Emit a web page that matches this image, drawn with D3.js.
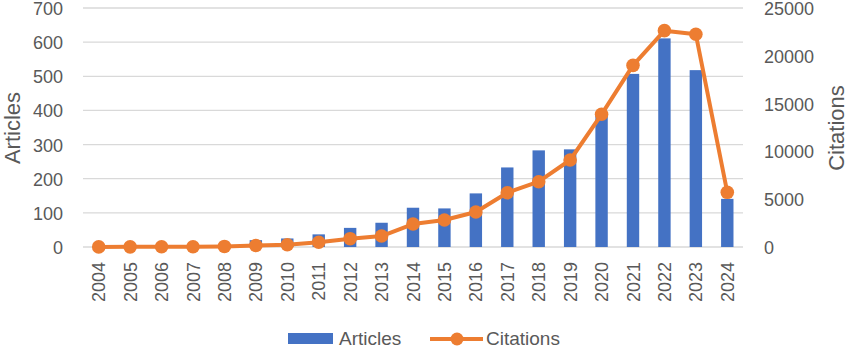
<!DOCTYPE html>
<html><head><meta charset="utf-8">
<script src="https://cdn.jsdelivr.net/npm/d3@7"></script>
<style>body{margin:0;background:#fff;} text{font-family:"Liberation Sans",Arial,sans-serif;fill:#595959;}</style>
</head><body><svg id="c" width="850" height="349"></svg>
<script>
const years = ["2004","2005","2006","2007","2008","2009","2010","2011","2012","2013","2014","2015","2016","2017","2018","2019","2020","2021","2022","2023","2024"];
const articles = [2,3,3,4,6,20,25,37,56,71,115,113,157,233,283,286,388,507,611,518,141];
const citations = [10,15,20,30,60,150,230,490,870,1150,2400,2820,3660,5680,6830,9100,13880,19000,22630,22250,5720];
const leftTicks = [0,100,200,300,400,500,600,700];
const rightTicks = [0,5000,10000,15000,20000,25000];

const svg = d3.select("#c");
const L = 83, R = 743, T = 8, B = 247;
const xc = d3.scaleBand().domain(years).range([L, R]);
const yL = d3.scaleLinear().domain([0,700]).range([B, T]);
const yR = d3.scaleLinear().domain([0,25000]).range([B, T]);

// gridlines
svg.append("g").selectAll("line").data(leftTicks).join("line")
  .attr("x1", L).attr("x2", R).attr("y1", d=>yL(d)).attr("y2", d=>yL(d))
  .attr("stroke", "#d9d9d9").attr("stroke-width", 1.3);

// left axis
const ga = svg.append("g").attr("transform", `translate(${L},0)`)
  .call(d3.axisLeft(yL).tickValues(leftTicks).tickSize(0).tickPadding(20).tickFormat(d3.format("d")));
ga.select(".domain").remove();
ga.selectAll("text").style("font-size","18px").attr("fill","#595959").attr("font-family","Liberation Sans, Arial, sans-serif").attr("dy","0.36em");

// right axis
const gr = svg.append("g").attr("transform", `translate(${R},0)`)
  .call(d3.axisRight(yR).tickValues(rightTicks).tickSize(0).tickPadding(21).tickFormat(d3.format("d")));
gr.select(".domain").remove();
gr.selectAll("text").style("font-size","18px").attr("fill","#595959").attr("font-family","Liberation Sans, Arial, sans-serif").attr("dy","0.36em");

// bars
svg.append("g").selectAll("rect").data(years).join("rect")
  .attr("x", (d)=>xc(d)+xc.bandwidth()/2-6.2)
  .attr("width", 12.4)
  .attr("y", (d,i)=>yL(articles[i]))
  .attr("height", (d,i)=>B - yL(articles[i]))
  .attr("fill", "#4472C4");

// line
const line = d3.line().x((d,i)=>xc(years[i])+xc.bandwidth()/2).y(d=>yR(d));
svg.append("path").datum(citations).attr("d", line)
  .attr("fill","none").attr("stroke","#ED7D31").attr("stroke-width",4).attr("stroke-linejoin","round");
svg.append("g").selectAll("circle").data(citations).join("circle")
  .attr("cx",(d,i)=>xc(years[i])+xc.bandwidth()/2).attr("cy",d=>yR(d)).attr("r",6.8)
  .attr("fill","#ED7D31");

// x labels
svg.append("g").selectAll("text").data(years).join("text")
  .attr("transform", d=>`translate(${xc(d)+xc.bandwidth()/2+6.5},${262}) rotate(-90)`)
  .attr("text-anchor","end").style("font-size","18px").text(d=>d);

// axis titles
svg.append("text").attr("transform","translate(20,128) rotate(-90)").attr("text-anchor","middle")
  .style("font-size","22px").text("Articles");
svg.append("text").attr("transform","translate(844,128) rotate(-90)").attr("text-anchor","middle")
  .style("font-size","22px").text("Citations");

// legend
const lg = svg.append("g");
lg.append("rect").attr("x",288).attr("y",333).attr("width",45).attr("height",11).attr("fill","#4472C4");
lg.append("text").attr("x",339).attr("y",345).style("font-size","19px").text("Articles");
lg.append("line").attr("x1",430).attr("x2",483).attr("y1",339).attr("y2",339).attr("stroke","#ED7D31").attr("stroke-width",4);
lg.append("circle").attr("cx",457).attr("cy",339).attr("r",6.5).attr("fill","#ED7D31");
lg.append("text").attr("x",486).attr("y",345).style("font-size","19px").text("Citations");
</script></body></html>
